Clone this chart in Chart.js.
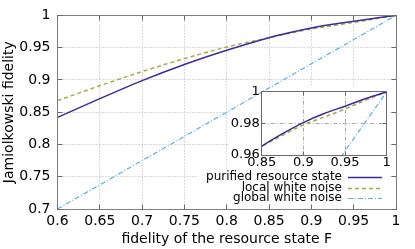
<!DOCTYPE html>
<html><head><meta charset="utf-8">
<script src="https://cdn.jsdelivr.net/npm/chart.js@4/dist/chart.umd.min.js"></script>
<style>
html,body{margin:0;padding:0;background:#fff;}
#wrap{position:relative;width:415px;height:249px;overflow:hidden;}
#main{position:absolute;left:0;top:0;}
#inset{position:absolute;left:229px;top:78px;}
</style></head><body>
<div id="wrap">
<canvas id="main" width="415" height="249"></canvas>
<canvas id="inset" width="163" height="94"></canvas>
</div>
<script>
// ---- data ----
const fidelity    = [0.6, 0.65, 0.7, 0.75, 0.8, 0.85, 0.875, 0.9, 0.925, 0.95, 0.975, 1.0];
const purified    = [0.842, 0.871, 0.899, 0.924, 0.946, 0.9655, 0.9735, 0.9805, 0.9862, 0.9908, 0.9957, 1.0];
const localNoise  = [0.868, 0.891, 0.913, 0.933, 0.951, 0.9655, 0.9725, 0.979, 0.984, 0.9891, 0.9947, 1.0];
const globalNoise = [0.7, 0.7375, 0.775, 0.8125, 0.85, 0.8875, 0.90625, 0.925, 0.94375, 0.9625, 0.98125, 1.0];
const seriesLabels = ['purified resource state', 'local white noise', 'global white noise'];
const mainXTicks  = [0.6, 0.65, 0.7, 0.75, 0.8, 0.85, 0.9, 0.95, 1];
const mainYTicks  = [0.7, 0.75, 0.8, 0.85, 0.9, 0.95, 1];
const insetXTicks = [0.85, 0.9, 0.95, 1];
const insetYTicks = [0.96, 0.98, 1];
const xTitle = 'fidelity of the resource state F';
const yTitle = 'Jamiolkowski fidelity';

// ---- styles ----
const FONT = 'DejaVu Sans';
const styles = [
  {color:'#3b2b9b', width:1.5, dash:[]},
  {color:'#a9a83a', width:1.5, dash:[4,3]},
  {color:'#5aafdc', width:1.2, dash:[5,2,1,2]}
];
const seriesData = [purified, localNoise, globalNoise];

function makeDatasets(){
  return seriesData.map((arr,i)=>({
    label: seriesLabels[i],
    data: fidelity.map((f,j)=>({x:f, y:arr[j]})),
    borderColor: styles[i].color,
    borderWidth: styles[i].width,
    borderDash: styles[i].dash,
    pointRadius: 0,
    fill: false,
    cubicInterpolationMode: 'monotone',
    order: i
  }));
}
const fmt = v => String(+Number(v).toFixed(3));
const px = p => Math.floor(p) + 0.5;

const mainDeco = {
  id: 'mainDeco',
  beforeDatasetsDraw(chart){
    const {ctx, chartArea:a, scales:{x, y}} = chart;
    ctx.save();
    ctx.strokeStyle = '#b5b5b5';
    ctx.lineWidth = 1;
    ctx.setLineDash([1,2]);
    mainXTicks.slice(1,-1).forEach(v=>{
      const p = px(x.getPixelForValue(v));
      ctx.beginPath(); ctx.moveTo(p, a.top); ctx.lineTo(p, a.bottom); ctx.stroke();
    });
    mainYTicks.slice(1,-1).forEach(v=>{
      const p = px(y.getPixelForValue(v));
      ctx.beginPath(); ctx.moveTo(a.left, p); ctx.lineTo(a.right, p); ctx.stroke();
    });
    ctx.setLineDash([]);
    // cleared region behind the inset
    ctx.fillStyle = '#fff';
    ctx.fillRect(229, 86, 161, 84);
    ctx.restore();
  },
  afterDraw(chart){
    const {ctx, chartArea:a, scales:{x, y}} = chart;
    ctx.save();
    // legend box
    ctx.fillStyle = '#fff';
    ctx.fillRect(198, 170, 192, 34);
    ctx.font = '12px "' + FONT + '"';
    ctx.textAlign = 'right';
    ctx.textBaseline = 'middle';
    seriesLabels.forEach((t,i)=>{
      const yy = 176.7 + i*10.8;
      ctx.fillStyle = '#000';
      ctx.fillText(t, 342, yy);
      ctx.strokeStyle = styles[i].color;
      ctx.lineWidth = styles[i].width;
      ctx.setLineDash(styles[i].dash);
      ctx.beginPath(); ctx.moveTo(348, Math.round(yy)+0.5); ctx.lineTo(382, Math.round(yy)+0.5); ctx.stroke();
    });
    ctx.setLineDash([]);
    // border
    ctx.strokeStyle = '#808080';
    ctx.lineWidth = 1;
    const L = px(a.left), R = px(a.right), T = px(a.top), B = px(a.bottom);
    ctx.strokeRect(L, T, R-L, B-T);
    // inward ticks, mirrored
    ctx.strokeStyle = '#6a6a6a';
    mainXTicks.forEach(v=>{
      const p = px(x.getPixelForValue(v));
      ctx.beginPath(); ctx.moveTo(p, B); ctx.lineTo(p, B-5); ctx.moveTo(p, T); ctx.lineTo(p, T+5); ctx.stroke();
    });
    mainYTicks.forEach(v=>{
      const p = px(y.getPixelForValue(v));
      ctx.beginPath(); ctx.moveTo(L, p); ctx.lineTo(L+5, p); ctx.moveTo(R, p); ctx.lineTo(R-5, p); ctx.stroke();
    });
    ctx.restore();
  }
};

const insetDeco = {
  id: 'insetDeco',
  beforeDatasetsDraw(chart){
    const {ctx, chartArea:a, scales:{x, y}} = chart;
    ctx.save();
    ctx.fillStyle = '#fff';
    ctx.fillRect(a.left, a.top, a.right-a.left, a.bottom-a.top);
    ctx.strokeStyle = '#a8a8a8';
    ctx.lineWidth = 1;
    ctx.setLineDash([4,2,1,2]);
    insetXTicks.slice(1,-1).forEach(v=>{
      const p = px(x.getPixelForValue(v));
      ctx.beginPath(); ctx.moveTo(p, a.top); ctx.lineTo(p, a.bottom); ctx.stroke();
    });
    insetYTicks.slice(1,-1).forEach(v=>{
      const p = px(y.getPixelForValue(v));
      ctx.beginPath(); ctx.moveTo(a.left, p); ctx.lineTo(a.right, p); ctx.stroke();
    });
    ctx.restore();
  },
  afterDraw(chart){
    const {ctx, chartArea:a, scales:{x, y}} = chart;
    ctx.save();
    ctx.strokeStyle = '#6a6a6a';
    ctx.lineWidth = 1;
    const L = px(a.left), R = px(a.right), T = px(a.top), B = px(a.bottom);
    ctx.strokeRect(L, T, R-L, B-T);
    insetXTicks.forEach(v=>{
      const p = px(x.getPixelForValue(v));
      ctx.beginPath(); ctx.moveTo(p, B); ctx.lineTo(p, B-4); ctx.moveTo(p, T); ctx.lineTo(p, T+4); ctx.stroke();
    });
    insetYTicks.forEach(v=>{
      const p = px(y.getPixelForValue(v));
      ctx.beginPath(); ctx.moveTo(L, p); ctx.lineTo(L+4, p); ctx.moveTo(R, p); ctx.lineTo(R-4, p); ctx.stroke();
    });
    ctx.restore();
  }
};

Chart.defaults.font.family = FONT;
Chart.defaults.color = '#000';

new Chart(document.getElementById('main'), {
  type: 'line',
  data: { datasets: makeDatasets() },
  options: {
    responsive: false, maintainAspectRatio: false, animation: false, devicePixelRatio: 1,
    layout: { padding: {left:0, right:19, top:14.3, bottom:0} },
    plugins: { legend:{display:false}, tooltip:{enabled:false} },
    scales: {
      x: {
        type:'linear', position:'bottom', min:0.6, max:1,
        grid:{display:false, drawTicks:false}, border:{display:false},
        afterBuildTicks: s => { s.ticks = mainXTicks.map(v=>({value:v})); },
        afterFit: s => { s.height = 40; },
        ticks:{ font:{size:14}, color:'#000', padding:4, maxRotation:0, autoSkip:false, callback: fmt },
        title:{ display:true, text:xTitle, font:{size:14}, color:'#000', padding:{top:0, bottom:1} }
      },
      y: {
        type:'linear', position:'left', min:0.7, max:1,
        grid:{display:false, drawTicks:false}, border:{display:false},
        afterBuildTicks: s => { s.ticks = mainYTicks.map(v=>({value:v})); },
        afterFit: s => { s.width = 57.5; },
        ticks:{ font:{size:14}, color:'#000', padding:7, autoSkip:false, callback: fmt },
        title:{ display:true, text:yTitle, font:{size:14}, color:'#000', padding:{top:1, bottom:0} }
      }
    }
  },
  plugins: [mainDeco]
});

new Chart(document.getElementById('inset'), {
  type: 'line',
  data: { datasets: makeDatasets() },
  options: {
    responsive: false, maintainAspectRatio: false, animation: false, devicePixelRatio: 1,
    layout: { padding: {left:0, right:5.3, top:13.7, bottom:0} },
    plugins: { legend:{display:false}, tooltip:{enabled:false} },
    scales: {
      x: {
        type:'linear', position:'bottom', min:0.85, max:1,
        grid:{display:false, drawTicks:false}, border:{display:false},
        afterBuildTicks: s => { s.ticks = insetXTicks.map(v=>({value:v})); },
        afterFit: s => { s.height = 17; },
        ticks:{ font:{size:13}, color:'#000', padding:0, maxRotation:0, autoSkip:false, callback: fmt }
      },
      y: {
        type:'linear', position:'left', min:0.96, max:1,
        grid:{display:false, drawTicks:false}, border:{display:false},
        afterBuildTicks: s => { s.ticks = insetYTicks.map(v=>({value:v})); },
        afterFit: s => { s.width = 32.7; },
        ticks:{ font:{size:13}, color:'#000', padding:2, autoSkip:false, callback: fmt }
      }
    }
  },
  plugins: [insetDeco]
});
</script>
</body></html>
